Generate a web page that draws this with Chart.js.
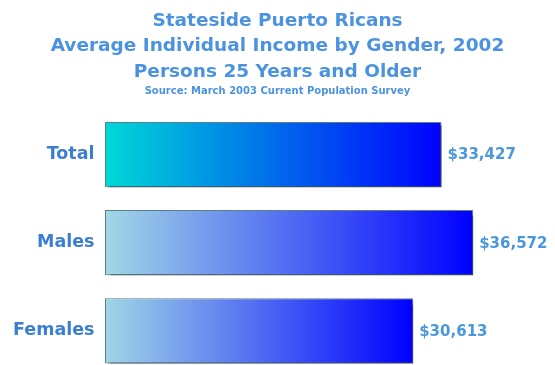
<!DOCTYPE html>
<html lang="en">
<head>
    <meta charset="UTF-8">
    <title>Stateside Puerto Ricans - Income by Gender</title>
    <script src="https://cdn.jsdelivr.net/npm/chart.js"></script>
    <style>
        html, body {
            margin: 0;
            padding: 0;
            overflow: hidden;
            background: #ffffff;
        }
        /* taller than the window so the last bar runs off the bottom edge */
        .chart-box {
            position: relative;
            width: 555px;
            height: 396px;
        }
    </style>
</head>
<body>
    <div class="chart-box">
        <canvas id="incomeChart"></canvas>
    </div>

    <script>
        const categories = ['Total', 'Males', 'Females'];
        const incomes = [33427, 36572, 30613];
        const titleLines = [
            'Stateside Puerto Ricans',
            'Average Individual Income by Gender, 2002',
            'Persons 25 Years and Older'
        ];
        const sourceLine = 'Source: March 2003 Current Population Survey';

        // left colour of each bar's gradient, all fade to pure blue
        const startColors = ['#00d9d6', '#a2d8e6', '#a0d6e6'];

        function barGradient(context) {
            const chart = context.chart;
            const x = chart.scales.x;
            if (!x || !chart.chartArea) return '#0000ff';
            const left = x.getPixelForValue(0);
            const right = x.getPixelForValue(incomes[context.dataIndex]);
            const g = chart.ctx.createLinearGradient(left, 0, right, 0);
            g.addColorStop(0, startColors[context.dataIndex]);
            g.addColorStop(1, '#0000ff');
            return g;
        }

        // drop shadow under the bars
        const barShadow = {
            id: 'barShadow',
            beforeDatasetsDraw(chart) {
                const ctx = chart.ctx;
                ctx.save();
                ctx.shadowColor = 'rgba(50, 70, 75, 0.85)';
                ctx.shadowOffsetX = 3;
                ctx.shadowOffsetY = 3;
                ctx.shadowBlur = 1;
            },
            afterDatasetsDraw(chart) {
                chart.ctx.restore();
            }
        };

        // dollar amounts right of each bar
        const valueLabels = {
            id: 'valueLabels',
            afterDraw(chart) {
                const ctx = chart.ctx;
                const meta = chart.getDatasetMeta(0);
                ctx.save();
                ctx.font = 'bold 15px "DejaVu Sans"';
                ctx.fillStyle = '#4a97dc';
                ctx.textAlign = 'left';
                ctx.textBaseline = 'middle';
                meta.data.forEach((bar, i) => {
                    const text = '$' + incomes[i].toLocaleString('en-US');
                    ctx.fillText(text, bar.x + 6, bar.y + 1);
                });
                ctx.restore();
            }
        };

        const ctx = document.getElementById('incomeChart').getContext('2d');
        new Chart(ctx, {
            type: 'bar',
            data: {
                labels: categories,
                datasets: [{
                    data: incomes,
                    backgroundColor: barGradient,
                    borderColor: '#5d7f8c',
                    borderWidth: 1,
                    borderSkipped: false,
                    categoryPercentage: 1,
                    barPercentage: 0.74
                }]
            },
            options: {
                indexAxis: 'y',
                responsive: true,
                maintainAspectRatio: false,
                animation: false,
                layout: { padding: 0 },
                plugins: {
                    legend: { display: false },
                    tooltip: { enabled: false },
                    title: {
                        display: true,
                        text: titleLines,
                        color: '#4b93e0',
                        font: { family: 'DejaVu Sans', size: 18.5, weight: 'bold', lineHeight: 1.378 },
                        padding: { top: 8, bottom: 0 }
                    },
                    subtitle: {
                        display: true,
                        text: sourceLine,
                        color: '#4b93e0',
                        font: { family: 'DejaVu Sans', size: 10, weight: 'bold', lineHeight: 1.2 },
                        padding: { top: 0.5, bottom: 13.5 }
                    }
                },
                scales: {
                    x: {
                        display: false,
                        min: 0,
                        max: 44700
                    },
                    y: {
                        grid: { display: false, drawTicks: false },
                        border: { display: false },
                        ticks: {
                            color: '#3c7ed0',
                            padding: 10.5,
                            font: { family: 'DejaVu Sans', size: 17.5, weight: 'bold' }
                        },
                        afterFit(scale) {
                            scale.width = 105;
                        }
                    }
                }
            },
            plugins: [barShadow, valueLabels]
        });
    </script>
</body>
</html>
